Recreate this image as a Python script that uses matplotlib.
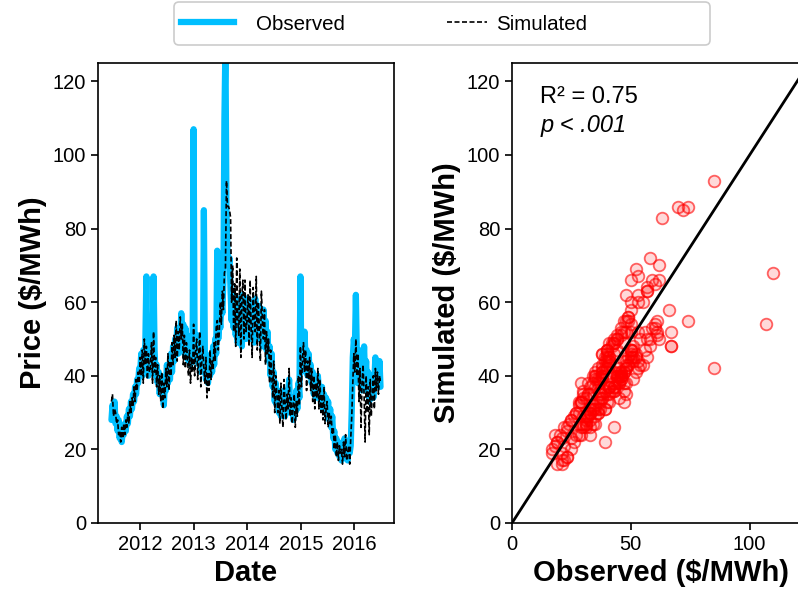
import numpy as np
import pandas as pd
import matplotlib
matplotlib.use('Agg')
import matplotlib.pyplot as plt
import matplotlib.dates as mdates
from matplotlib.patches import FancyBboxPatch
from matplotlib.lines import Line2D

plt.rcParams['font.family'] = ['Liberation Sans', 'DejaVu Sans']

# weekly prices ($/MWh), starting 2011-06-20
obs_2011 = [28, 32, 30, 33, 27, 29, 25, 28, 23, 26,
            22, 25, 24, 27, 25, 29, 27, 31, 29, 33,
            31, 35, 33, 37, 35, 39, 38, 42]
sim_2011 = [33, 35, 29, 31, 30, 27, 28, 24, 25, 22,
            26, 23, 27, 24, 28, 26, 30, 27, 33, 30,
            34, 32, 37, 33, 39, 36, 41, 38]

obs_2012 = [41, 46, 40, 47, 43, 49, 67, 44, 40, 46,
            48, 43, 45, 67, 47, 40, 43, 38, 41, 35,
            40, 35, 37, 32, 38, 36, 43, 38, 42, 39,
            46, 41, 48, 44, 50, 47, 53, 46, 51, 49,
            57, 50, 54, 46, 53, 47, 51, 44, 50, 43,
            49, 45]
sim_2012 = [45, 40, 47, 38, 50, 43, 48, 39, 46, 41,
            42, 49, 38, 52, 41, 45, 37, 43, 35, 40,
            33, 41, 31, 38, 34, 42, 37, 46, 36, 44,
            40, 49, 43, 51, 45, 55, 44, 52, 47, 56,
            50, 54, 43, 51, 42, 49, 45, 40, 47, 38,
            45, 41]

obs_2013 = [107, 46, 50, 44, 51, 43, 48, 41, 47, 42,
            85, 44, 39, 45, 38, 43, 40, 46, 41, 48,
            43, 50, 46, 74, 50, 56, 53, 60, 57, 66,
            110, 130, 85, 74, 70, 72, 63, 55, 62, 53,
            60, 51, 58, 49, 61, 52, 57, 48, 62, 54,
            59, 50]
sim_2013 = [54, 40, 47, 50, 39, 46, 52, 37, 44, 48,
            42, 38, 45, 34, 41, 36, 47, 39, 44, 42,
            49, 44, 53, 55, 47, 52, 60, 54, 63, 58,
            68, 69, 93, 86, 86, 85, 83, 60, 70, 52,
            65, 48, 72, 55, 51, 69, 45, 62, 66, 50,
            66, 52]

obs_2014 = [61, 53, 58, 50, 60, 52, 57, 49, 61, 53,
            56, 50, 59, 51, 57, 48, 58, 50, 55, 47,
            52, 44, 48, 40, 46, 37, 41, 33, 38, 32,
            36, 30, 35, 29, 34, 31, 36, 29, 33, 30,
            35, 39, 32, 30, 34, 28, 33, 30, 36, 31,
            38, 34]
sim_2014 = [55, 62, 48, 66, 53, 45, 64, 56, 52, 67,
            47, 60, 53, 44, 63, 55, 50, 58, 43, 52,
            46, 50, 38, 47, 41, 34, 44, 30, 40, 35,
            30, 36, 27, 38, 31, 26, 39, 33, 28, 35,
            31, 42, 29, 34, 27, 32, 35, 26, 33, 29,
            40, 32]

obs_2015 = [67, 41, 48, 42, 52, 44, 47, 40, 46, 41,
            43, 38, 41, 35, 39, 34, 38, 40, 36, 37,
            33, 37, 31, 35, 30, 34, 29, 33, 28, 31,
            26, 29, 23, 25, 20, 23, 19, 22, 18, 21,
            17, 21, 19, 23, 18, 21, 17, 22, 19, 21,
            31, 45, 50, 47, 62]
sim_2015 = [48, 37, 44, 49, 41, 47, 36, 44, 39, 45,
            36, 42, 33, 40, 31, 38, 34, 42, 31, 39,
            30, 35, 28, 37, 27, 31, 33, 26, 30, 27,
            29, 24, 26, 20, 24, 18, 22, 17, 21, 19,
            20, 16, 22, 18, 24, 17, 19, 21, 16, 23,
            29, 38, 46, 41, 50]

obs_2016 = [45, 38, 47, 40, 43, 36, 41, 48, 39, 44,
            36, 41, 33, 38, 35, 40, 34, 39, 45, 37,
            43, 38, 44, 37]
sim_2016 = [40, 46, 33, 42, 26, 38, 43, 35, 22, 40,
            30, 37, 24, 39, 29, 35, 40, 31, 42, 36,
            41, 35, 40, 38]

observed = np.array(obs_2011 + obs_2012 + obs_2013 + obs_2014 + obs_2015 + obs_2016, dtype=float)
simulated = np.array(sim_2011 + sim_2012 + sim_2013 + sim_2014 + sim_2015 + sim_2016, dtype=float)
dates = pd.date_range('2011-06-20', periods=len(observed), freq='7D')

r2_text = 'R\u00b2 = 0.75'
p_text = 'p < .001'

obs_color = '#00BFFF'

fig = plt.figure(figsize=(7.98, 5.96), dpi=100)
ax1 = fig.add_axes([0.1228, 0.1225, 0.3709, 0.7718])
ax2 = fig.add_axes([0.6416, 0.1225, 0.3722, 0.7718])

# time series
ax1.plot(dates, observed, color=obs_color, lw=4.5, solid_joinstyle='round',
         solid_capstyle='round')
ax1.plot(dates, simulated, color='black', lw=1.2, linestyle=(0, (3, 1.5)))
ax1.set_ylim(0, 125)
ax1.set_yticks(np.arange(0, 121, 20))
ax1.xaxis.set_major_locator(mdates.YearLocator())
ax1.xaxis.set_major_formatter(mdates.DateFormatter('%Y'))
ax1.set_xlabel('Date', fontsize=21, fontweight='bold')
ax1.set_ylabel('Price ($/MWh)', fontsize=21, fontweight='bold')

# observed vs simulated
ax2.scatter(observed, simulated, s=70, facecolors=(1, 0, 0, 0.15),
            edgecolors=(1, 0, 0, 0.6), linewidths=1.3, zorder=2)
ax2.axline((0, 0), slope=1, color='black', lw=2, zorder=3)
ax2.set_xlim(0, 125)
ax2.set_ylim(0, 125)
ax2.set_xticks([0, 50, 100])
ax2.set_yticks(np.arange(0, 121, 20))
ax2.set_xlabel('Observed ($/MWh)', fontsize=21, fontweight='bold')
ax2.set_ylabel('Simulated ($/MWh)', fontsize=21, fontweight='bold')
ax2.text(0.095, 0.926, r2_text, transform=ax2.transAxes, fontsize=17, va='center')
ax2.text(0.095, 0.865, p_text, transform=ax2.transAxes, fontsize=17, va='center',
         style='italic')

for ax in (ax1, ax2):
    ax.tick_params(labelsize=14.5, length=5, width=1.2)
    for sp in ax.spines.values():
        sp.set_linewidth(1.2)

# legend: frame drawn separately, two entries placed on their own
frame = FancyBboxPatch((1.74, 5.51), 5.36, 0.43, boxstyle='round,pad=0,rounding_size=0.05',
                       transform=fig.dpi_scale_trans, facecolor='white',
                       edgecolor='#cccccc', lw=1.2)
fig.add_artist(frame)
h_obs = Line2D([], [], color=obs_color, lw=4.5)
h_sim = Line2D([], [], color='black', lw=1.2, linestyle=(0, (3, 1.5)))
leg1 = fig.legend([h_obs], ['Observed'], loc='center left', bbox_to_anchor=(0.2268, 0.9597),
                  frameon=False, fontsize=14.8, handlelength=2.6, handletextpad=1.07,
                  borderpad=0, borderaxespad=0)
leg2 = fig.legend([h_sim], ['Simulated'], loc='center left', bbox_to_anchor=(0.5602, 0.9597),
                  frameon=False, fontsize=14.8, handlelength=1.95, handletextpad=0.45,
                  borderpad=0, borderaxespad=0)

fig.savefig('out.png', dpi=100)
